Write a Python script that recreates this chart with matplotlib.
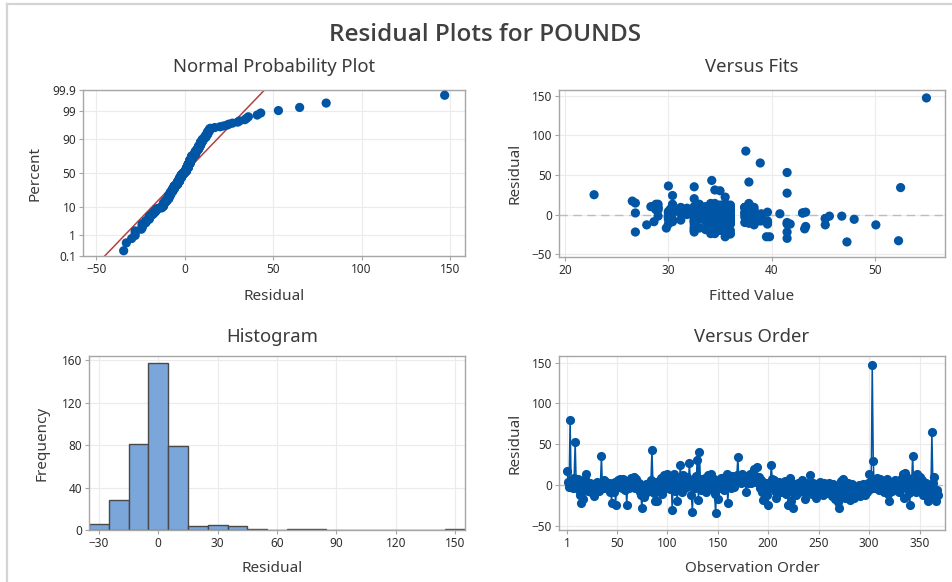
import numpy as np
import matplotlib
matplotlib.use("Agg")
import matplotlib.pyplot as plt
from matplotlib.lines import Line2D
from statistics import NormalDist

plt.rcParams["font.family"] = ["Noto Sans", "DejaVu Sans"]

# Residuals of the POUNDS model, in observation order
residuals = [
    17, 4, -2, 80, 3, 0, -3, 9, 53, 2, -4, 7, -6, -12, -22, -9, -17, 1, 8, 14,
    3, -7, -1, 2, -8, -3, 1, -13, -6, 0, 4, -2, -7, 2, 35, -4, 1, 6, -3, 4,
    -1, 3, -9, 0, -22, 2, -8, 4, -24, 1, 6, -2, 7, 3, -4, 8, 2, -6, 5, -24,
    1, -3, 4, 9, -1, 2, 10, -4, 8, 3, -2, 3, -8, -12, -28, -6, -15, -3, 1, -9,
    -4, 2, -7, 6, 43, 0, -10, -20, 4, -20, -2, 2, -6, 9, -11, 1, 12, -3, 7, 14,
    3, 11, -5, 8, -30, 2, 13, -7, 6, -20, 4, -2, 24, 9, -9, 12, 1, -4, 6, 10,
    -1, 27, 4, -12, -33, 3, 8, -3, 11, 31, -18, 41, 2, -6, 7, 0, 9, -8, 4, 12,
    -2, 6, 14, 1, -5, 8, -11, -34.5, 3, -17, 3, -3, 9, -1, 4, -6, 10, 2, 13, -22,
    0, 7, -4, 11, 3, -2, 8, 4, 12, 34, 6, 9, 2, 13, 4, 10, 7, -8, 11, 3,
    8, 14, 3, 12, 6, 20, 9, 4, 22, 7, 10, -3, 6, -9, -18, 2, -6, 2, -12, -24,
    3, -4, 25, 8, -2, 6, -7, -15.5, 1, -10, 4, -5, -1, -8, 2, -3, 5, -11, -6, -24,
    -2, 9, -19, -4, -28, -8, 1, -12, -9, 3, -9, -3, 6, -7, -1, -17, 2, -6, -10, 0,
    12, -4, -11, 3, -7, -2, -16, 1, -8, -3, 4, -9, -1, -12, 2, -7, -10, 0, -6, 3,
    -8, -2, -13, 1, -5, -17, -3, -9, -21, -28, -7, 5, -12, 8, -4, -16, -1, -10, 2, -6,
    -18, -3, 1, -9, -16, -5, -11, -2, -8, 0, -13, -4, -7, 1, -10, -12, -3, -9, 2, 13,
    -5, 4, 147, 30, -3, 6, -2, 9, 3, -6, 8, 1, -4, 5, -8, 2, -1, 7, -11, -20,
    -3, 4, -7, 1, -2, 6, -5, 3, -9, 0, 8, -4, 13, -16, 14.5, 5, -2, 9, -10, -24.5,
    -6, 4, 36, -1, 7, -9, 13, 2, -5, 10, -3, 6, -12, 1, -7, 3, -4, -20, -8, -2,
    -13, 65, 3, 10, -9, -19, -6, -12,
]

# Fitted values for the same observations
fitted = [
    26.5, 33.6, 35.0, 37.5, 31.8, 34.5, 30.2, 28.8, 41.5, 36.0, 33.0, 35.5, 34.1, 32.5, 26.8, 35.0, 29.8, 33.6, 30.4, 37.8,
    34.5, 31.2, 35.5, 26.8, 36.0, 33.0, 34.1, 27.9, 38.3, 32.5, 35.0, 30.0, 34.5, 43.0, 32.5, 36.0, 31.8, 29.0, 34.1, 35.5,
    33.6, 37.4, 28.6, 35.0, 32.5, 30.4, 34.5, 36.0, 34.1, 31.2, 33.0, 39.0, 35.5, 32.5, 34.5, 29.0, 35.0, 37.8, 33.6, 36.0,
    34.1, 30.0, 35.5, 28.6, 33.0, 36.0, 28.3, 34.5, 31.8, 39.6, 35.0, 32.5, 34.1, 41.8, 35.5, 30.4, 43.3, 33.6, 37.4, 35.0,
    36.0, 34.5, 32.5, 35.0, 34.2, 38.3, 41.5, 32.5, 33.0, 34.5, 46.8, 35.5, 34.1, 31.2, 35.0, 40.8, 30.4, 34.5, 36.0, 35.5,
    32.5, 34.1, 36.0, 33.6, 41.5, 35.0, 28.8, 34.5, 37.8, 36.0, 30.0, 33.0, 30.4, 35.5, 32.5, 34.5, 39.0, 35.0, 31.8, 36.0,
    34.1, 41.5, 35.5, 30.0, 52.3, 33.6, 34.5, 36.0, 35.0, 34.5, 32.5, 37.8, 43.0, 35.5, 30.4, 34.1, 37.4, 39.0, 32.5, 36.0,
    45.6, 33.0, 34.5, 35.5, 45.2, 31.2, 36.0, 47.3, 34.1, 35.0, 33.6, 38.3, 29.0, 35.0, 34.5, 48.0, 32.5, 36.0, 34.1, 41.5,
    35.5, 34.5, 30.0, 36.0, 33.0, 35.0, 37.8, 34.1, 35.5, 52.5, 32.5, 38.3, 34.5, 30.4, 36.0, 33.6, 35.0, 39.6, 34.5, 31.8,
    36.0, 34.1, 35.5, 33.0, 35.0, 32.5, 37.4, 34.5, 35.5, 30.2, 38.0, 36.0, 28.8, 34.1, 43.2, 35.0, 33.6, 32.5, 39.6, 34.5,
    35.5, 33.0, 22.8, 34.5, 36.0, 31.2, 35.0, 34.1, 37.8, 35.5, 34.5, 45.2, 33.6, 36.0, 32.5, 39.0, 34.1, 35.0, 30.0, 35.8,
    34.5, 36.0, 35.5, 33.6, 39.5, 34.1, 35.0, 36.0, 32.5, 34.5, 30.4, 37.4, 35.5, 34.1, 36.0, 33.0, 35.0, 38.3, 34.5, 31.8,
    35.0, 34.1, 36.0, 43.3, 35.5, 34.5, 32.5, 36.0, 38.8, 35.0, 33.6, 34.5, 36.0, 35.5, 30.0, 34.1, 39.6, 35.0, 33.0, 37.8,
    34.5, 36.0, 45.2, 35.5, 34.1, 35.0, 32.5, 36.0, 34.5, 39.8, 35.5, 33.0, 34.1, 31.2, 36.0, 35.5, 34.5, 37.4, 35.0, 34.1,
    35.0, 34.5, 36.0, 33.6, 35.5, 34.1, 36.0, 29.0, 35.0, 34.5, 38.3, 35.5, 36.0, 32.5, 34.1, 41.5, 35.0, 34.5, 30.4, 33.0,
    34.5, 35.5, 55.0, 35.0, 36.0, 34.1, 33.0, 35.5, 38.3, 34.5, 32.5, 36.0, 35.0, 30.2, 34.1, 33.6, 35.5, 36.0, 37.8, 35.0,
    34.1, 36.0, 33.6, 35.5, 34.5, 31.8, 35.0, 36.0, 34.1, 35.5, 33.0, 34.5, 29.0, 35.0, 26.8, 36.0, 34.1, 37.4, 35.5, 36.0,
    35.0, 34.5, 30.0, 36.0, 33.6, 35.5, 34.1, 35.0, 32.5, 36.0, 34.5, 38.3, 35.5, 33.0, 34.1, 36.0, 35.0, 34.5, 37.8, 35.5,
    50.1, 38.9, 34.5, 35.0, 36.0, 33.6, 35.5, 34.1,
]

hist_edges = list(range(-35, 165, 10))
prob_ticks = [0.1, 1, 10, 50, 90, 99, 99.9]
normal_xticks = [-50, 0, 50, 100, 150]
fits_xticks = [20, 30, 40, 50]
resid_yticks = [-50, 0, 50, 100, 150]
hist_xticks = [-30, 0, 30, 60, 90, 120, 150]
hist_yticks = [0, 40, 80, 120, 160]
order_xticks = [1, 50, 100, 150, 200, 250, 300, 350]

BLUE = "#0055A5"
RED = "#B5413F"
BAR = "#7AA6DA"
BAR_EDGE = "#4A4A4A"
GRID = "#EBEBEB"
SPINE = "#A6A6A6"
TEXT = "#3A3A3A"

res = np.asarray(residuals, dtype=float)
fit = np.asarray(fitted, dtype=float)
n = len(res)
obs = np.arange(1, n + 1)
nd = NormalDist()

fig = plt.figure(figsize=(9.53, 5.82), dpi=100)
W, H = 953, 582


def box(left, top, right, bottom):
    return [left / W, 1 - bottom / H, (right - left) / W, (bottom - top) / H]


def style(ax):
    ax.set_facecolor("white")
    for s in ax.spines.values():
        s.set_color(SPINE)
        s.set_linewidth(1.0)
    ax.grid(True, color=GRID, linewidth=0.8, zorder=0)
    ax.set_axisbelow(True)
    ax.tick_params(axis="both", labelsize=8.5, labelcolor="#2E2E2E", length=3,
                   width=0.8, pad=2, color=SPINE)


def px_text(x, y, s, color=TEXT, **kw):
    fig.text(x / W, 1 - y / H, s, ha="center", va="center", color=color, **kw)


# Outer frame of the graph window
fig.add_artist(Line2D([7 / W, 1.0], [1 - 4 / H, 1 - 4 / H], color="#D4D4D4",
                      linewidth=1.6, transform=fig.transFigure))
fig.add_artist(Line2D([7 / W, 7 / W], [0, 1 - 4 / H], color="#D4D4D4",
                      linewidth=1.6, transform=fig.transFigure))

fig.text(485 / W, 1 - 35 / H, "Residual Plots for POUNDS", ha="center",
         va="center", color="#404040", fontsize=17.5, fontweight="semibold",
         family=["Open Sans", "DejaVu Sans"])

MS = 44  # scatter marker area
SUB = 13.3
LAB = 11

# ---- Normal probability plot ----
ax1 = fig.add_axes(box(83, 90, 465, 256))
style(ax1)
srt = np.sort(res)
pos = (np.arange(1, n + 1) - 0.3) / (n + 0.4)
z = np.array([nd.inv_cdf(p) for p in pos])
mu, sd = res.mean(), res.std(ddof=1)
zlo, zhi = nd.inv_cdf(0.001), nd.inv_cdf(0.999)
zline = np.array([zlo, zhi])
ax1.plot(mu + sd * zline, zline, color=RED, linewidth=1.1, zorder=2)
ax1.scatter(srt, z, s=MS, color=BLUE, edgecolors="none", zorder=3)
ax1.set_ylim(zlo, zhi)
ax1.set_xlim(-57.5, 158.5)
ax1.set_yticks([nd.inv_cdf(p / 100) for p in prob_ticks])
ax1.set_yticklabels([f"{p:g}" for p in prob_ticks])
ax1.set_xticks(normal_xticks)
px_text(274, 67, "Normal Probability Plot", fontsize=SUB)
px_text(274, 297, "Residual", fontsize=LAB)
px_text(35, 173, "Percent", fontsize=LAB, rotation=90)

# ---- Versus fits ----
ax2 = fig.add_axes(box(559, 90, 945, 257))
style(ax2)
ax2.axhline(0, color="#BDBDBD", linewidth=1.0, linestyle=(0, (6, 4)), zorder=1)
ax2.scatter(fit, res, s=MS, color=BLUE, edgecolors="none", zorder=3)
ax2.set_xlim(19.4, 56.8)
ax2.set_ylim(-53.5, 157)
ax2.set_xticks(fits_xticks)
ax2.set_yticks(resid_yticks)
px_text(752, 67, "Versus Fits", fontsize=SUB)
px_text(752, 297, "Fitted Value", fontsize=LAB)
px_text(515, 173, "Residual", fontsize=LAB, rotation=90)

# ---- Histogram ----
ax3 = fig.add_axes(box(89, 356, 465, 530))
style(ax3)
ax3.hist(res, bins=hist_edges, color=BAR, edgecolor=BAR_EDGE, linewidth=1.0,
         zorder=2)
ax3.set_xlim(hist_edges[0], hist_edges[-1])
ax3.set_ylim(0, 164)
ax3.set_xticks(hist_xticks)
ax3.set_yticks(hist_yticks)
px_text(272, 337, "Histogram", fontsize=SUB)
px_text(272, 568, "Residual", fontsize=LAB)
px_text(42, 443, "Frequency", fontsize=LAB, rotation=90)

# ---- Versus order ----
ax4 = fig.add_axes(box(559, 356, 945, 530))
style(ax4)
ax4.axhline(0, color="#BDBDBD", linewidth=1.0, linestyle=(0, (6, 4)), zorder=1)
ax4.plot(obs, res, color=BLUE, linewidth=1.1, marker="o", markersize=6.6,
         markeredgewidth=0, zorder=3)
ax4.set_xlim(-7, 375)
ax4.set_ylim(-55, 158)
ax4.set_xticks(order_xticks)
ax4.set_yticks(resid_yticks)
px_text(752, 337, "Versus Order", fontsize=SUB)
px_text(752, 568, "Observation Order", fontsize=LAB)
px_text(515, 443, "Residual", fontsize=LAB, rotation=90)

fig.savefig("out.png", dpi=100, facecolor="white")
